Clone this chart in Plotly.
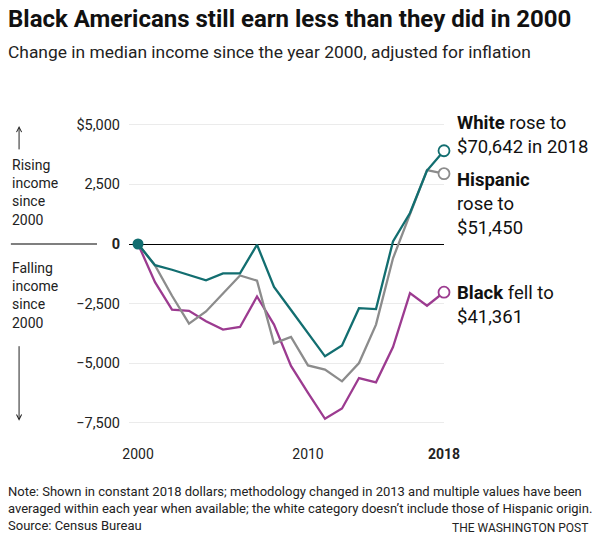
import plotly.graph_objects as go

# change in median household income since 2000, constant 2018 dollars
years = list(range(2000, 2019))
white = [0, -890, -1080, -1300, -1520, -1230, -1230, -30, -1800, -2770, -3740,
         -4710, -4260, -2690, -2730, 110, 1300, 3080, 3910]
hispanic = [0, -900, -2170, -3340, -2830, -2060, -1320, -1540, -4170, -3900, -5090,
            -5270, -5760, -4990, -3380, -600, 1230, 3100, 2950]
black = [0, -1600, -2750, -2800, -3240, -3590, -3480, -2200, -3380, -5110, -6240,
         -7330, -6900, -5620, -5800, -4320, -2060, -2590, -2020]

y_ticks = [5000, 2500, 0, -2500, -5000, -7500]
y_labels = ["$5,000", "2,500", "<b>0</b>", "\u22122,500", "\u22125,000", "\u22127,500"]
x_ticks = [2000, 2010, 2018]
x_labels = ["2000", "2010", "<b>2018</b>"]

TEAL = "#126e70"
GRAY = "#8c8c8c"
PURPLE = "#9c3b90"
FONT = "Roboto"

fig = go.Figure()
for vals, col in [(black, PURPLE), (hispanic, GRAY), (white, TEAL)]:
    fig.add_trace(go.Scatter(x=years, y=vals, mode="lines",
                             line=dict(color=col, width=2.3), hoverinfo="skip"))
    # open circle at the last year
    fig.add_trace(go.Scatter(x=years[-1:], y=vals[-1:], mode="markers",
                             marker=dict(size=11, color="white",
                                         line=dict(color=col, width=1.8)),
                             cliponaxis=False, hoverinfo="skip"))
fig.add_trace(go.Scatter(x=years[:1], y=white[:1], mode="markers",
                         marker=dict(size=11, color=TEAL), cliponaxis=False,
                         hoverinfo="skip"))

ann = [
    dict(x=2018, y=white[-1], text="<b>White</b> rose to<br>$70,642 in 2018",
         xshift=11, yshift=16),
    dict(x=2018, y=hispanic[-1], text="<b>Hispanic</b><br>rose to<br>$51,450",
         xshift=11, yshift=-30),
    dict(x=2018, y=black[-1], text="<b>Black</b> fell to<br>$41,361",
         xshift=11, yshift=-13),
]
for a in ann:
    fig.add_annotation(xref="x", yref="y", xanchor="left", yanchor="middle",
                       align="left", showarrow=False,
                       font=dict(family=FONT, size=18.5, color="#111"), **a)

side = dict(xref="paper", yref="paper", xanchor="left", yanchor="middle",
            align="left", showarrow=False,
            font=dict(family=FONT, size=14, color="#222"))
fig.add_annotation(x=-0.378, y=0.765, text="Rising<br>income<br>since<br>2000", **side)
fig.add_annotation(x=-0.378, y=0.4345, text="Falling<br>income<br>since<br>2000", **side)

arrow = dict(xref="paper", yref="paper", text="", showarrow=True, arrowhead=5,
             arrowsize=1, arrowwidth=1, arrowcolor="#222", ax=0)
fig.add_annotation(x=-0.349, y=0.981, ay=25, **arrow)
fig.add_annotation(x=-0.349, y=0.03, ay=-76, **arrow)

# zero line continued under the left-hand labels
fig.add_shape(type="line", xref="paper", yref="y", x0=-0.375, x1=-0.1016,
              y0=0, y1=0, line=dict(color="black", width=1.2))

head = dict(xref="paper", yref="paper", x=-0.392, xanchor="left",
            yanchor="middle", showarrow=False)
fig.add_annotation(y=1.326, text="<b>Black Americans still earn less than they did in 2000</b>",
                   font=dict(family=FONT, size=24, color="#111"), **head)
fig.add_annotation(y=1.22, text="Change in median income since the year 2000, adjusted for inflation",
                   font=dict(family=FONT, size=17.4, color="#222"), **head)

fig.add_annotation(xref="paper", yref="paper", x=-0.39, y=-0.169, xanchor="left",
                   yanchor="top", align="left", showarrow=False,
                   font=dict(family=FONT, size=13, color="#222"),
                   text="Note: Shown in constant 2018 dollars; methodology changed in 2013 and multiple values have been<br>"
                        "averaged within each year when available; the white category doesn\u2019t include those of Hispanic origin.<br>"
                        "Source: Census Bureau")
fig.add_annotation(xref="paper", yref="paper", x=1.4635, y=-0.287, xanchor="right",
                   yanchor="top", showarrow=False,
                   font=dict(family=FONT, size=12, color="#222"),
                   text="THE WASHINGTON POST")

fig.update_layout(
    width=600, height=542, showlegend=False,
    paper_bgcolor="white", plot_bgcolor="white",
    margin=dict(l=129, r=156, t=120, b=112),
    xaxis=dict(range=[1999.47, 2018], tickvals=x_ticks, ticktext=x_labels,
               showgrid=False, zeroline=False, showline=False, ticks="",
               ticklabelstandoff=14,
               tickfont=dict(family=FONT, size=14, color="#222")),
    yaxis=dict(range=[-7800, 5200], tickvals=y_ticks, ticktext=y_labels,
               showgrid=True, gridcolor="#ebebeb", gridwidth=1,
               zeroline=True, zerolinecolor="black", zerolinewidth=1.2,
               showline=False, ticks="", ticklabelstandoff=8,
               tickfont=dict(family=FONT, size=14.5, color="#222")),
)

# drop the browser's default 8px body margin so the figure fills the window
fig.write_html("out.html", config={"displayModeBar": False},
               post_script="document.body.style.margin = '0';")
